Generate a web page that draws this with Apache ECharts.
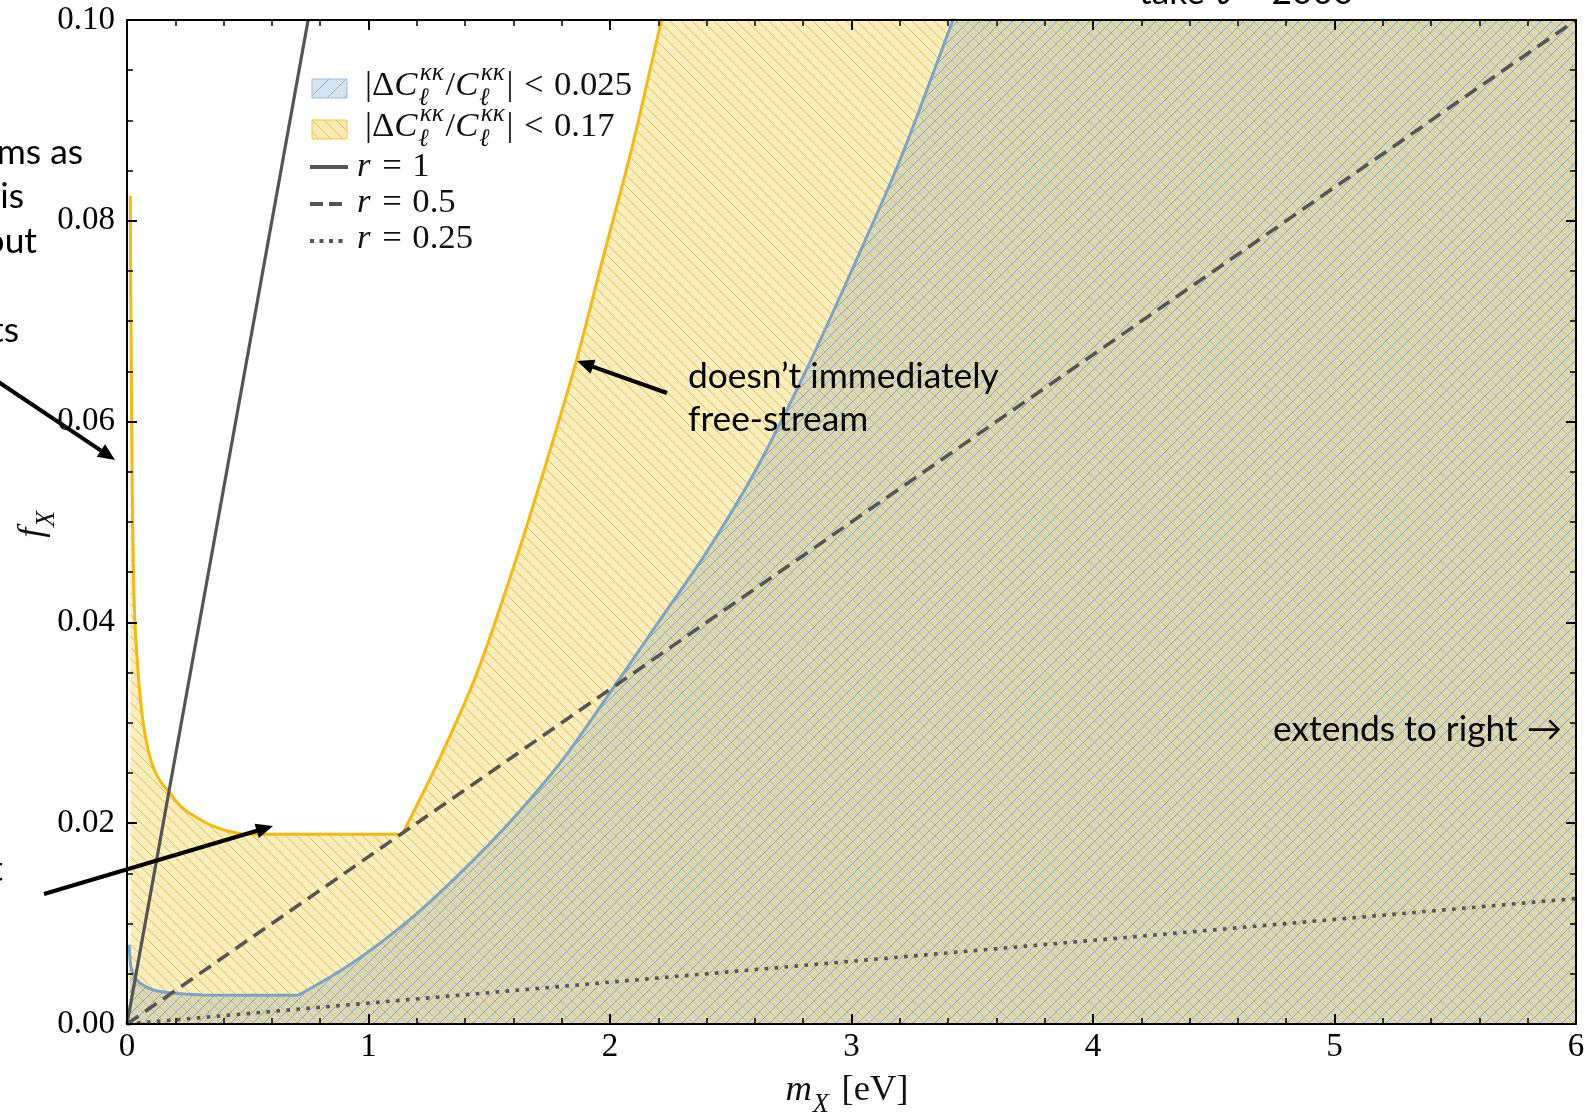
<!DOCTYPE html>
<html><head><meta charset="utf-8">
<script src="https://cdn.jsdelivr.net/npm/echarts@6/dist/echarts.min.js"></script>
<style>html,body{margin:0;padding:0;background:#fff;}#c{width:1594px;height:1117px;}</style>
</head><body><div id="c"></div>
<script>
// ---------------- data ----------------
const xTickLabels = ['0','1','2','3','4','5','6'];
const yTickLabels = ['0.00','0.02','0.04','0.06','0.08','0.10'];
// |ΔC/C| < 0.17 boundary (yellow)
const yellowM = [0.0137,0.0150,0.0165,0.0180,0.0195,0.0220,0.0260,0.0320,0.0410,0.0530,0.0675,0.0860,0.1080,0.1400,0.1780,0.2100,0.2470,0.3000,0.3570,0.4200,0.4940,0.6000,1.1400,1.2900,1.4500,1.6100,1.7400,1.8600,1.9700,2.0900,2.2130,2.2600,6.0];
const yellowF = [0.0825,0.0760,0.0700,0.0645,0.0596,0.0530,0.0459,0.0405,0.0367,0.0330,0.0299,0.0275,0.0256,0.0241,0.0230,0.0220,0.0212,0.0204,0.0197,0.0192,0.0189,0.0189,0.0189,0.0262,0.0350,0.0462,0.0562,0.0660,0.0762,0.0872,0.1000,0.1050,0.1050];
const yellowKinkM = 1.14;
// |ΔC/C| < 0.025 boundary (blue)
const blueM = [0.0095,0.012,0.019,0.035,0.054,0.109,0.192,0.316,0.709,0.85,1.0,1.2,1.4,1.6,1.8,2.0,2.2,2.4,2.6,2.8,3.0,3.2,3.42,3.47,6.0];
const blueF = [0.0079,0.0066,0.0054,0.0046,0.00405,0.00339,0.00306,0.0029,0.00286,0.0048,0.0072,0.0110,0.0155,0.0205,0.0262,0.0330,0.0400,0.0470,0.0550,0.0645,0.0750,0.0860,0.1000,0.1035,0.1035];
const blueKinkM = 0.709;
// r lines (end points)
const r1M = [0, 0.75],  r1F = [0, 0.1];
const r05M = [0, 6],    r05F = [0, 0.1];
const r025M = [0, 6],   r025F = [0, 0.0125];

// ---------------- helpers ----------------
const SERIF = '"Liberation Serif", "DejaVu Serif", serif';
const SANS = 'Lato, "Open Sans", sans-serif';
const mctx = document.createElement('canvas').getContext('2d');
function fstr(size, it, fam){ return (it ? 'italic ' : '') + size.toFixed(2) + 'px ' + fam; }
function mw(t, size, it, fam){ mctx.font = fstr(size, it, fam); return mctx.measureText(t).width; }
function midOff(f){ mctx.font = f; const m = mctx.measureText('Hxg'); return (m.fontBoundingBoxAscent - m.fontBoundingBoxDescent) / 2; }
function txt(t, x, base, size, fam, opt){
  opt = opt || {};
  const f = fstr(size, !!opt.italic, fam);
  const al = opt.align || 'left';
  return { type:'text', z:100, silent:true,
    style:{ text:t, x:x, y: base - midOff(f), font:f, fill: opt.color || '#000',
      align:al, textAlign:al, verticalAlign:'middle', textVerticalAlign:'middle' } };
}
function mathLayout(x0, base, parts, S, fam, color){
  let x = x0; const els = [];
  parts.forEach(p => {
    if (p.gap) { x += p.gap * S; return; }
    if (p.sup || p.sub) {
      const s = S * 0.72; let w = 0;
      if (p.sup) { els.push(txt(p.sup, x + 0.03*S, base - 0.44*S, s, fam, {italic:true, color})); w = Math.max(w, mw(p.sup, s, true, fam) + 0.03*S); }
      if (p.sub) { els.push(txt(p.sub, x - 0.02*S, base + 0.28*S, s, fam, {italic:true, color})); w = Math.max(w, mw(p.sub, s, true, fam)); }
      x += w + 0.05*S; return;
    }
    els.push(txt(p.t, x, base, S, fam, {italic: !!p.it, color}));
    x += mw(p.t, S, !!p.it, fam) + (p.it ? 0.04*S : 0);
  });
  return { els, width: x - x0 };
}
function fitSize(parts, target, fam){ const w = mathLayout(0, 0, parts, 24, fam).width; return 24 * target / w; }
function hatch(size, bg, lines){
  const c = document.createElement('canvas'); c.width = size; c.height = size;
  const g = c.getContext('2d');
  g.fillStyle = bg; g.fillRect(0, 0, size, size);
  lines.forEach(l => {
    g.strokeStyle = l.color; g.lineWidth = l.width;
    g.beginPath();
    for (let k = -1; k <= 1; k++) {
      if (l.dir === '\\') { g.moveTo(k*size, 0); g.lineTo(k*size + size, size); }
      else { g.moveTo(k*size, size); g.lineTo(k*size + size, 0); }
    }
    g.stroke();
  });
  return c;
}
function arrow(x1, y1, x2, y2){
  const dx = x2 - x1, dy = y2 - y1, L = Math.hypot(dx, dy), ux = dx/L, uy = dy/L;
  const hl = 17, hw = 7.5, bx = x2 - ux*hl, by = y2 - uy*hl;
  return [
    { type:'line', z:100, silent:true, shape:{x1:x1, y1:y1, x2:bx + ux*2, y2:by + uy*2}, style:{stroke:'#000', lineWidth:4}},
    { type:'polygon', z:100, silent:true, shape:{points:[[x2,y2],[bx - uy*hw, by + ux*hw],[bx + uy*hw, by - ux*hw]]}, style:{fill:'#000'}}
  ];
}
const pts = (M, F) => M.map((m, i) => [m, F[i]]);
const upTo = (M, F, k) => pts(M, F).filter(p => p[0] <= k);
const from = (M, F, k) => pts(M, F).filter(p => p[0] >= k);

// ---------------- patterns ----------------
const HS = 11;
const YHATCH = '#efbc36', BHATCH = '#83a7ca';
const yellowPat = hatch(HS, '#fdeebf', [{dir:'\\', color:YHATCH, width:1}]);
const bluePat = hatch(HS, '#dad8bb', [{dir:'\\', color:YHATCH, width:1}, {dir:'/', color:BHATCH, width:1}]);
const blueSw = hatch(17, '#d6e4f1', [{dir:'/', color:'#8eb0d0', width:1}]);
const yellowSw = hatch(12, '#fdebb6', [{dir:'\\', color:'#efbd3c', width:1}]);

// ---------------- graphic (legend, labels, annotations) ----------------
const G = [];
const f1 = [{t:'|'},{t:'Δ'},{t:'C',it:true},{sup:'κκ',sub:'ℓ'},{t:'/'},{t:'C',it:true},{sup:'κκ',sub:'ℓ'},{t:'|'},{gap:0.3},{t:'<'},{gap:0.3},{t:'0.025'}];
const f2 = [{t:'|'},{t:'Δ'},{t:'C',it:true},{sup:'κκ',sub:'ℓ'},{t:'/'},{t:'C',it:true},{sup:'κκ',sub:'ℓ'},{t:'|'},{gap:0.3},{t:'<'},{gap:0.3},{t:'0.17'}];
const LS = fitSize(f1, 267, SERIF);
G.push({type:'rect', z:100, silent:true, shape:{x:312, y:79, width:35, height:19}, style:{fill:{image:blueSw, repeat:'repeat'}, stroke:'#9fbcd8', lineWidth:1}});
G.push({type:'rect', z:100, silent:true, shape:{x:312, y:120, width:35, height:19}, style:{fill:{image:yellowSw, repeat:'repeat'}, stroke:'#f2c344', lineWidth:1}});
G.push(...mathLayout(365, 97, f1, LS, SERIF, '#111').els);
G.push(...mathLayout(365, 138, f2, LS, SERIF, '#111').els);
const rRows = [['1', 178, 167, null], ['0.5', 214, 204, [13, 6]], ['0.25', 250, 241, [4, 5.5]]];
rRows.forEach(r => {
  G.push({type:'line', z:100, silent:true, shape:{x1:310, y1:r[2], x2:348, y2:r[2]}, style:{stroke:'#555', lineWidth:4, lineDash:r[3] || null, lineCap:'butt'}});
  G.push(...mathLayout(357, r[1], [{t:'r',it:true},{gap:0.3},{t:'='},{gap:0.3},{t:r[0]}], LS, SERIF, '#111').els);
});
// axis names
const xn = [{t:'m',it:true},{sub:'X'},{gap:0.28},{t:'[eV]'}];
const XS = fitSize(xn, 123, SERIF);
const xnw = mathLayout(0, 0, xn, XS, SERIF).width;
G.push(...mathLayout(847 - xnw/2, 1103, xn, XS, SERIF, '#111').els);
const yn = [{t:'f',it:true},{sub:'X'}];
const ynl = mathLayout(0, 0, yn, XS, SERIF);
G.push({type:'group', x:45, y:523, rotation:Math.PI/2, silent:true, children: mathLayout(-ynl.width/2, 0, yn, XS, SERIF, '#111').els});
// annotations
const AS = 37 * 311 / mw('doesn’t immediately', 37, false, SANS);
G.push(txt('doesn’t immediately', 688, 390, AS, SANS));
G.push(txt('free-stream', 688, 433, AS, SANS));
G.push(txt('extends to right →', 1562, 743, AS, SANS, {align:'right'}));
G.push(txt('take ℓ = 2000', 1139, 6, AS, SANS));
G.push(txt('ms as', 83, 166, AS, SANS, {align:'right'}));
G.push(txt('is', 24, 210, AS, SANS, {align:'right'}));
G.push(txt('out', 37, 255, AS, SANS, {align:'right'}));
G.push(txt('ts', 19, 344, AS, SANS, {align:'right'}));
G.push(txt('t', 3, 883, AS, SANS, {align:'right'}));
G.push(...arrow(-12, 375, 115, 460));
G.push(...arrow(44, 894, 273, 826));
G.push(...arrow(667, 393, 577, 361));

// ---------------- axes ----------------
function xAx(pos, labels){
  return { type:'value', min:0, max:6, interval:1, position:pos, z:10,
    axisLine:{show:true, onZero:false, lineStyle:{color:'#000', width:2}},
    axisTick:{show:true, inside:true, length:10, lineStyle:{color:'#000', width:2}},
    minorTick:{show:true, splitNumber:5, length:6, lineStyle:{color:'#000', width:1.5}},
    splitLine:{show:false}, minorSplitLine:{show:false},
    axisLabel:{show:labels, margin:7, fontFamily:SERIF, fontSize:33, color:'#000',
      formatter: v => xTickLabels[Math.round(v)]} };
}
function yAx(pos, labels){
  return { type:'value', min:0, max:0.1, interval:0.02, position:pos, z:10,
    axisLine:{show:true, onZero:false, lineStyle:{color:'#000', width:2}},
    axisTick:{show:true, inside:true, length:10, lineStyle:{color:'#000', width:2}},
    minorTick:{show:true, splitNumber:4, length:6, lineStyle:{color:'#000', width:1.5}},
    splitLine:{show:false}, minorSplitLine:{show:false},
    axisLabel:{show:labels, margin:12, fontFamily:SERIF, fontSize:33, color:'#000',
      formatter: v => yTickLabels[Math.round(v / 0.02)]} };
}
const base = {xAxisIndex:0, yAxisIndex:0, symbol:'none', showSymbol:false, silent:true, animation:false};
const fillSer = (data, pat, z) => Object.assign({type:'line', data, z, lineStyle:{width:0, opacity:0},
  areaStyle:{origin:'start', opacity:1, color:{image:pat, repeat:'repeat'}}}, base);
const edgeSer = (data, color, w, z) => Object.assign({type:'line', data, z, smooth:0.3,
  lineStyle:{color, width:w}}, base);
const rSer = (M, F, dash, w) => Object.assign({type:'line', data:pts(M, F), z:4,
  lineStyle:{color:'#555', width:w, type:dash, cap:'butt'}}, base);

const option = {
  animation:false,
  backgroundColor:'#fff',
  grid:{left:127, right:18, top:20, bottom:93, containLabel:false, outerBoundsMode:'none'},
  xAxis:[xAx('bottom', true), xAx('top', false)],
  yAxis:[yAx('left', true), yAx('right', false)],
  series:[
    fillSer(pts(yellowM, yellowF), yellowPat, 1),
    fillSer(pts(blueM, blueF), bluePat, 2),
    edgeSer(upTo(yellowM, yellowF, yellowKinkM), '#f6b90d', 3, 3),
    edgeSer(from(yellowM, yellowF, yellowKinkM), '#f6b90d', 3, 3),
    edgeSer(upTo(blueM, blueF, blueKinkM), '#7ba4c9', 3, 3),
    edgeSer(from(blueM, blueF, blueKinkM), '#7ba4c9', 3, 3),
    rSer(r1M, r1F, 'solid', 3.2),
    rSer(r05M, r05F, [14, 8], 3.6),
    rSer(r025M, r025F, [3.6, 6.4], 3.6)
  ],
  graphic:{elements:G}
};
const chart = echarts.init(document.getElementById('c'), null, {renderer:'canvas'});
chart.setOption(option);
</script>
</body></html>
